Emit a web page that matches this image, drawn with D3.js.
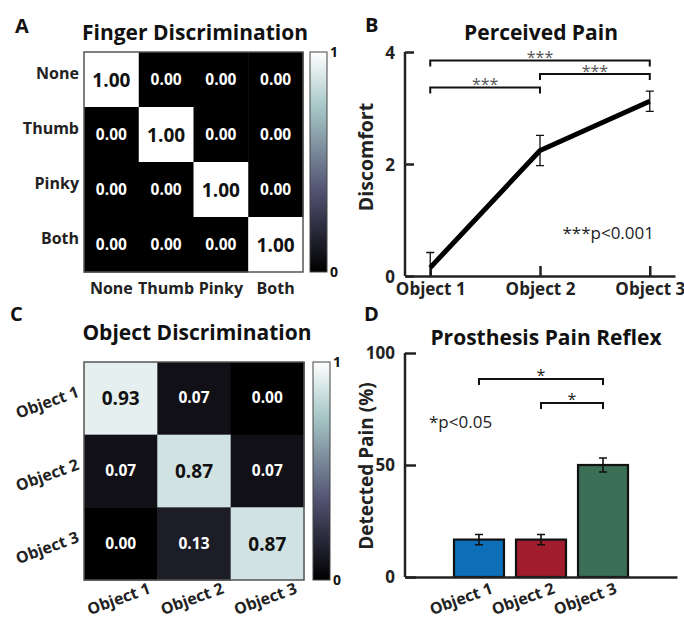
<!DOCTYPE html>
<html>
<head>
<meta charset="utf-8">
<script src="https://cdn.jsdelivr.net/npm/d3@7"></script>
<style>
  body { margin: 0; background: #fff; }
  svg text { font-family: "Open Sans", sans-serif; }
</style>
</head>
<body>
<div id="root"></div>
<script>
// ---- data ----
var fingerLabels = ["None", "Thumb", "Pinky", "Both"];
var fingerMatrix = [
    [1.00, 0.00, 0.00, 0.00],
    [0.00, 1.00, 0.00, 0.00],
    [0.00, 0.00, 1.00, 0.00],
    [0.00, 0.00, 0.00, 1.00]
];

var objectLabels = ["Object 1", "Object 2", "Object 3"];
var objectMatrix = [
    [0.93, 0.07, 0.00],
    [0.07, 0.87, 0.07],
    [0.00, 0.13, 0.87]
];

var painMean = [0.15, 2.24, 3.12];
var painErr = [0.27, 0.27, 0.18];
var painTicks = [0, 2, 4];
// [from, to, label]
var painSig = [["Object 1", "Object 3", "***"], ["Object 2", "Object 3", "***"], ["Object 1", "Object 2", "***"]];

var reflexMean = [16.7, 16.7, 50];
var reflexErr = [2.3, 2.3, 3.1];
var reflexTicks = [0, 50, 100];
var reflexSig = [["Object 1", "Object 3", "*"], ["Object 2", "Object 3", "*"]];
var barColors = ["#0c6fb7", "#a11d2e", "#3b6f56"];

// matlab "bone" colormap
var bone = d3.scaleLinear()
    .domain([0, 0.365079, 0.746032, 1])
    .range(["rgb(0,0,0)", "rgb(81,81,113)", "rgb(166,198,198)", "rgb(255,255,255)"]);

var svg = d3.select("#root")
    .append("svg")
    .attr("width", 684)
    .attr("height", 621);

var defs = svg.append("defs");
var grad = defs.append("linearGradient")
    .attr("id", "bonegrad")
    .attr("x1", 0).attr("y1", 1).attr("x2", 0).attr("y2", 0);
d3.range(0, 1.0001, 0.05).forEach(function (t) {
    grad.append("stop").attr("offset", t).attr("stop-color", bone(t));
});

var labelSize = "17px";

function panelLetter(x, y, s) {
    svg.append("text").attr("x", x).attr("y", y).text(s)
        .style("font-size", "20px").style("font-weight", 700).style("fill", "#111");
}
function title(x, y, s) {
    svg.append("text").attr("x", x).attr("y", y).text(s)
        .attr("text-anchor", "middle")
        .style("font-size", "21px").style("font-weight", 700).style("fill", "#111");
}

// heatmap helper
function heatmap(opts) {
    var labels = opts.labels, m = opts.matrix;
    var x = d3.scaleBand().domain(labels).range([opts.x0, opts.x1]);
    var y = d3.scaleBand().domain(labels).range([opts.y0, opts.y1]);
    var g = svg.append("g");
    var cells = [];
    m.forEach(function (row, i) {
        row.forEach(function (v, j) {
            cells.push({ r: labels[i], c: labels[j], v: v });
        });
    });
    g.selectAll("rect.cell")
        .data(cells)
        .enter()
        .append("rect")
        .attr("class", "cell")
        .attr("x", function (d) { return x(d.c); })
        .attr("y", function (d) { return y(d.r); })
        .attr("width", x.bandwidth() + 0.5)
        .attr("height", y.bandwidth() + 0.5)
        .style("fill", function (d) { return bone(d.v); });
    g.selectAll("text.val")
        .data(cells)
        .enter()
        .append("text")
        .attr("x", function (d) { return x(d.c) + x.bandwidth() / 2; })
        .attr("y", function (d) { return y(d.r) + y.bandwidth() / 2 + (d.v > 0.5 ? 7 : 5); })
        .attr("text-anchor", "middle")
        .text(function (d) { return d.v.toFixed(2); })
        .style("font-weight", 700)
        .style("font-size", function (d) { return d.v > 0.5 ? "19px" : "15.5px"; })
        .style("fill", function (d) { return d.v > 0.5 ? "#111" : "#fff"; });
    g.append("rect")
        .attr("x", opts.x0).attr("y", opts.y0)
        .attr("width", opts.x1 - opts.x0).attr("height", opts.y1 - opts.y0)
        .style("fill", "none").style("stroke", "#555").style("stroke-width", 1.5);

    // colorbar
    var cb = svg.append("g");
    cb.append("rect")
        .attr("x", opts.cbx).attr("y", opts.y0)
        .attr("width", 17).attr("height", opts.y1 - opts.y0)
        .style("fill", "url(#bonegrad)").style("stroke", "#444").style("stroke-width", 1);
    var cs = d3.scaleLinear().domain([0, 1]).range([opts.y1, opts.y0]);
    cb.selectAll("text")
        .data([0, 1])
        .enter()
        .append("text")
        .attr("x", opts.cbx + 20)
        .attr("y", function (d) { return cs(d) + 5; })
        .text(function (d) { return d; })
        .style("font-size", "14px").style("font-weight", 700).style("fill", "#111");
    return { x: x, y: y };
}

// ---- Panel A ----
panelLetter(15, 33, "A");
title(195, 40, "Finger Discrimination");
var hA = heatmap({ labels: fingerLabels, matrix: fingerMatrix, x0: 84, x1: 303, y0: 52, y1: 272, cbx: 310 });
svg.append("g").selectAll("text")
    .data(fingerLabels)
    .enter()
    .append("text")
    .attr("x", 79)
    .attr("y", function (d) { return hA.y(d) + hA.y.bandwidth() / 2 - 1; })
    .attr("text-anchor", "end")
    .text(function (d) { return d; })
    .style("font-size", "16px").style("font-weight", 700).style("fill", "#222");
svg.append("g").selectAll("text")
    .data(fingerLabels)
    .enter()
    .append("text")
    .attr("x", function (d) { return hA.x(d) + hA.x.bandwidth() / 2; })
    .attr("y", 294)
    .attr("text-anchor", "middle")
    .text(function (d) { return d; })
    .style("font-size", "16px").style("font-weight", 700).style("fill", "#222");

// ---- Panel C ----
panelLetter(10, 321, "C");
title(197, 340, "Object Discrimination");
var hC = heatmap({ labels: objectLabels, matrix: objectMatrix, x0: 84, x1: 304, y0: 362, y1: 580, cbx: 313 });
svg.append("g").selectAll("text")
    .data(objectLabels)
    .enter()
    .append("text")
    .attr("transform", function (d) {
        return "translate(80," + (hC.y(d) + hC.y.bandwidth() / 2 - 2) + ") rotate(-20)";
    })
    .attr("text-anchor", "end")
    .text(function (d) { return d; })
    .style("font-size", "16px").style("font-weight", 700).style("fill", "#222");
svg.append("g").selectAll("text")
    .data(objectLabels)
    .enter()
    .append("text")
    .attr("transform", function (d) {
        return "translate(" + (hC.x(d) + hC.x.bandwidth() / 2) + ",604) rotate(-20)";
    })
    .attr("text-anchor", "middle")
    .text(function (d) { return d; })
    .style("font-size", "16px").style("font-weight", 700).style("fill", "#222");

// ---- Panel B : perceived pain ----
panelLetter(365, 32, "B");
title(541, 40, "Perceived Pain");
var xB = d3.scalePoint().domain(objectLabels).range([405, 675]).padding(0.23);
var yB = d3.scaleLinear().domain([0, 4]).range([276, 52]);

var axB = svg.append("g").attr("transform", "translate(0,276)")
    .call(d3.axisBottom(xB).tickSize(-10).tickSizeOuter(0).tickPadding(7));
var ayB = svg.append("g").attr("transform", "translate(405,0)")
    .call(d3.axisLeft(yB).tickValues(painTicks).tickFormat(d3.format("d"))
        .tickSize(-9).tickSizeOuter(0).tickPadding(10));
[axB, ayB].forEach(function (a) {
    a.select(".domain").style("stroke", "#222").style("stroke-width", 2.5);
    a.selectAll(".tick line").style("stroke", "#222").style("stroke-width", 2.5);
    a.selectAll("text").style("font-size", labelSize).style("font-weight", 700).style("fill", "#222");
});
ayB.selectAll(".tick text").attr("dy", "0.36em");
ayB.select(".domain").attr("d", "M0,276V52");

svg.append("text")
    .attr("transform", "translate(373,157) rotate(-90)")
    .attr("text-anchor", "middle")
    .text("Discomfort")
    .style("font-size", "19.5px").style("font-weight", 700).style("fill", "#222");

var painData = objectLabels.map(function (d, i) { return { k: d, m: painMean[i], e: painErr[i] }; });
var clipB = defs.append("clipPath").attr("id", "clipB");
clipB.append("rect").attr("x", 400).attr("y", 40).attr("width", 280).attr("height", 236);
var gB = svg.append("g").attr("clip-path", "url(#clipB)");
gB.selectAll("g.eb")
    .data(painData)
    .enter()
    .append("path")
    .attr("d", function (d) {
        var cx = xB(d.k), t = yB(d.m + d.e), b = yB(d.m - d.e);
        return "M" + (cx - 4) + "," + t + "H" + (cx + 4) + "M" + cx + "," + t + "V" + b +
            "M" + (cx - 4) + "," + b + "H" + (cx + 4);
    })
    .style("stroke", "#111").style("stroke-width", 1.3).style("fill", "none");
gB.append("path")
    .datum(painData)
    .attr("d", d3.line().x(function (d) { return xB(d.k); }).y(function (d) { return yB(d.m); }))
    .style("fill", "none").style("stroke", "#000").style("stroke-width", 5);

var sigYB = [60.5, 74, 87.5];
painSig.forEach(function (s, i) {
    var a = xB(s[0]), b = xB(s[1]), y = sigYB[i];
    svg.append("path")
        .attr("d", "M" + a + "," + (y + 6) + "V" + y + "H" + b + "V" + (y + 6))
        .style("fill", "none").style("stroke", "#111").style("stroke-width", 2);
    svg.append("text")
        .attr("x", (a + b) / 2).attr("y", y + 2.5)
        .attr("text-anchor", "middle")
        .text(s[2])
        .style("font-size", "16px").style("fill", "#555");
});
svg.append("text")
    .attr("x", 654).attr("y", 239)
    .attr("text-anchor", "end")
    .text("***p<0.001")
    .style("font-size", "17px").style("fill", "#222");

// ---- Panel D : prosthesis pain reflex ----
panelLetter(364, 321, "D");
title(546, 345, "Prosthesis Pain Reflex");
var xD = d3.scaleBand().domain(objectLabels).range([405, 677]).paddingInner(0.194).paddingOuter(0.79);
var yD = d3.scaleLinear().domain([0, 100]).range([577, 353]);

var reflexData = objectLabels.map(function (d, i) { return { k: d, m: reflexMean[i], e: reflexErr[i], c: barColors[i] }; });
svg.append("g").selectAll("rect")
    .data(reflexData)
    .enter()
    .append("rect")
    .attr("x", function (d) { return xD(d.k); })
    .attr("y", function (d) { return yD(d.m); })
    .attr("width", xD.bandwidth())
    .attr("height", function (d) { return yD(0) - yD(d.m); })
    .style("fill", function (d) { return d.c; })
    .style("stroke", "#111").style("stroke-width", 2.2);
svg.append("g").selectAll("path")
    .data(reflexData)
    .enter()
    .append("path")
    .attr("d", function (d) {
        var cx = xD(d.k) + xD.bandwidth() / 2, t = yD(d.m + d.e), b = yD(d.m - d.e);
        return "M" + (cx - 4) + "," + t + "H" + (cx + 4) + "M" + cx + "," + t + "V" + b +
            "M" + (cx - 4) + "," + b + "H" + (cx + 4);
    })
    .style("stroke", "#111").style("stroke-width", 1.6).style("fill", "none");

var axD = svg.append("g").attr("transform", "translate(0,577)")
    .call(d3.axisBottom(xD).tickSize(0).tickSizeOuter(0).tickFormat(""));
var ayD = svg.append("g").attr("transform", "translate(405,0)")
    .call(d3.axisLeft(yD).tickValues(reflexTicks).tickSize(-11).tickSizeOuter(0).tickPadding(10));
[axD, ayD].forEach(function (a) {
    a.select(".domain").style("stroke", "#222").style("stroke-width", 2.5);
    a.selectAll(".tick line").style("stroke", "#222").style("stroke-width", 2.5);
    a.selectAll("text").style("font-size", labelSize).style("font-weight", 700).style("fill", "#222");
});
ayD.select(".domain").attr("d", "M0,577V353");
svg.append("g").selectAll("text")
    .data(objectLabels)
    .enter()
    .append("text")
    .attr("transform", function (d) {
        return "translate(" + (xD(d) + xD.bandwidth() / 2 - 16) + ",604) rotate(-20)";
    })
    .attr("text-anchor", "middle")
    .text(function (d) { return d; })
    .style("font-size", "16px").style("font-weight", 700).style("fill", "#222");

svg.append("text")
    .attr("transform", "translate(373,466) rotate(-90)")
    .attr("text-anchor", "middle")
    .text("Detected Pain (%)")
    .style("font-size", "19px").style("font-weight", 700).style("fill", "#222");

var sigYD = [379, 403];
reflexSig.forEach(function (s, i) {
    var a = xD(s[0]) + xD.bandwidth() / 2, b = xD(s[1]) + xD.bandwidth() / 2, y = sigYD[i];
    svg.append("path")
        .attr("d", "M" + a + "," + (y + 6) + "V" + y + "H" + b + "V" + (y + 6))
        .style("fill", "none").style("stroke", "#111").style("stroke-width", 2);
    svg.append("text")
        .attr("x", (a + b) / 2).attr("y", y + 2)
        .attr("text-anchor", "middle")
        .text(s[2])
        .style("font-size", "16px").style("fill", "#222");
});
svg.append("text")
    .attr("x", 429).attr("y", 428)
    .text("*p<0.05")
    .style("font-size", "17px").style("fill", "#222");
</script>
</body>
</html>
